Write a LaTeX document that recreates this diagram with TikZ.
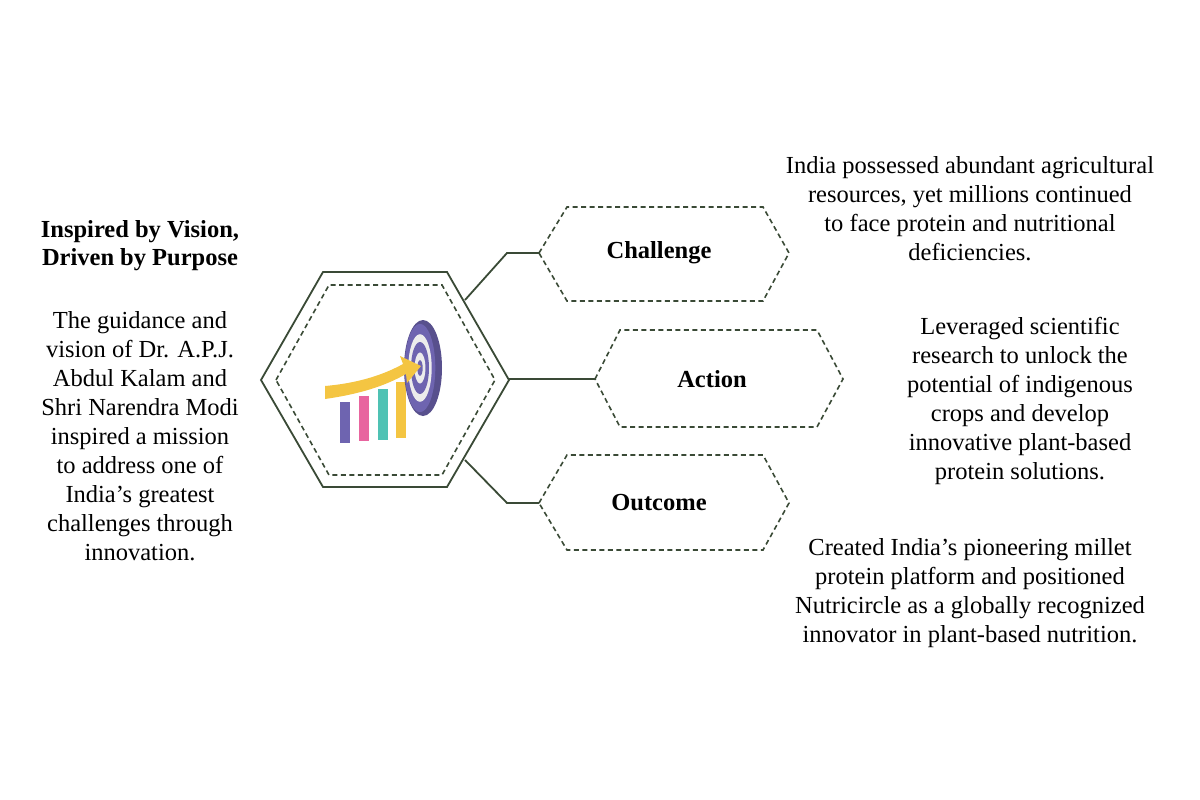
\documentclass[tikz,border=0pt]{standalone}
\usepackage{fontspec}
\setmainfont{Liberation Serif}
\definecolor{hexgreen}{HTML}{3A4A36}
\definecolor{barpurple}{HTML}{6E64B0}
\definecolor{barpink}{HTML}{E8659F}
\definecolor{barteal}{HTML}{4FC2B4}
\definecolor{baryellow}{HTML}{F4C542}
\tikzset{
  body/.style={align=center,font=\fontsize{24.5}{29}\selectfont},
  title/.style={align=center,font=\bfseries\fontsize{24.5}{28}\selectfont},
  hexline/.style={draw=hexgreen,line width=1.8pt},
  hexdash/.style={draw=hexgreen,line width=1.6pt,dash pattern=on 5pt off 3.5pt},
}
\begin{document}
\begin{tikzpicture}[x=1pt,y=-1pt]
  \useasboundingbox[fill=white] (0,0) rectangle (1200,800);
  % central hexagon:
  \draw[hexline] (261,380) -- (323,272) -- (447,272) -- (509,380) -- (447,487) -- (323,487) -- cycle;
  \draw[hexdash] (276,380) -- (329,285) -- (442,285) -- (495,380) -- (442,475) -- (329,475) -- cycle;
  % icon: bars, arrow and target
  \fill[barpurple] (340,402) rectangle (350,443);
  \fill[barpink] (359,396) rectangle (369,441);
  \fill[barteal] (378,389) rectangle (388,440);
  \fill[baryellow] (396,382) rectangle (406,438);
  \fill[barpurple!80!black] (423,368) ellipse (19 and 48);
  \foreach \r/\c in {17/barpurple,13/white!85!gray,10/barpurple,6/white!85!gray,3/barpurple}
    \fill[\c] (420,368) ellipse (\r*0.9 and \r*2.6);
  \fill[baryellow] (325,386) .. controls (360,383) and (385,374) .. (403,364)
    -- (400,356) -- (421,366) -- (407,383) -- (406,374)
    .. controls (385,386) and (360,394) .. (325,399) -- cycle;
  % hexagons on the right:
  \node[title] (challenge) at (659,253) {Challenge};
  \draw[hexdash] (539,253) -- (567,207) -- (763,207) -- (789,253) -- (763,301) -- (567,301) -- cycle;
  \node[title] (action) at (712,379) {Action};
  \draw[hexdash] (595,379) -- (620,330) -- (817,330) -- (843,379) -- (817,427) -- (620,427) -- cycle;
  \node[title] (outcome) at (659,503) {Outcome};
  \draw[hexdash] (539,503) -- (567,455) -- (763,455) -- (789,503) -- (763,550) -- (567,550) -- cycle;
  % connectors:
  \coordinate (cin) at (465,300);
  \coordinate (cout) at (539,253);
  \coordinate (ain) at (509,379);
  \coordinate (aout) at (595,379);
  \coordinate (oin) at (465,460);
  \coordinate (oout) at (539,503);
  \draw[hexline] (cin) -- (507,253) -- (cout);
  \draw[hexline] (ain) -- (aout);
  \draw[hexline] (oin) -- (507,503) -- (oout);
  % texts:
  \node[title] (head) at (140,246) {Inspired by Vision,\\Driven by Purpose};
  \node[body] (vision) at (140,436) {The guidance and\\vision of Dr. A.P.J.\\Abdul Kalam and\\Shri Narendra Modi\\inspired a mission\\to address one of\\India’s greatest\\challenges through\\innovation.};
  \node[body] (ctext) at (970,209) {India possessed abundant agricultural\\resources, yet millions continued\\to face protein and nutritional\\deficiencies.};
  \node[body] (atext) at (1020,401) {Leveraged scientific\\research to unlock the\\potential of indigenous\\crops and develop\\innovative plant-based\\protein solutions.};
  \node[body] (otext) at (970,593) {Created India’s pioneering millet\\protein platform and positioned\\Nutricircle as a globally recognized\\innovator in plant-based nutrition.};
\end{tikzpicture}
\end{document}
